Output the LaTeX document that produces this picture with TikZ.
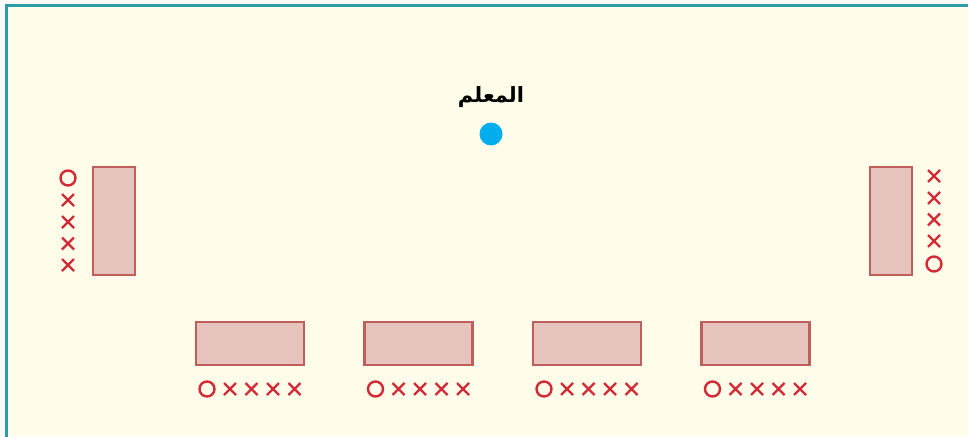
\documentclass[tikz,border=0pt]{standalone}
\usepackage{fontspec}
\newfontfamily\arabicfont[Script=Arabic]{DejaVu Sans}
\TeXXeTstate=1
\definecolor{frame}{HTML}{2A9DA6}
\definecolor{cream}{HTML}{FFFCE9}
\definecolor{deskfill}{HTML}{E6C3BC}
\definecolor{deskdraw}{HTML}{BF5F5B}
\definecolor{mark}{HTML}{D32A35}
\definecolor{dot}{HTML}{00AEEF}
\begin{document}
\begin{tikzpicture}[x=1pt,y=-1pt,
  desk/.style={draw=deskdraw,fill=deskfill,line width=2.2pt},
  ring/.style={draw=mark,line width=2.4pt},
  cross/.style={draw=mark,line width=2.4pt}]
\useasboundingbox (0,0) rectangle (968,436);
\fill[white!96!gray] (0,0) rectangle (968,436);
\fill[cream] (6,6) rectangle (968,436);
\draw[frame,line width=3pt] (6,440) -- (6,6) -- (970,6);
% teacher
\node[font=\arabicfont\bfseries\fontsize{21}{24}\selectfont] (t) at (491,97) {\beginR المعلم\endR};
\fill[dot] (491,134) circle (11.5);
% side desks
\draw[desk] (93,167) rectangle (135,275);
\draw[desk] (870,167) rectangle (912,275);
% bottom desks
\foreach \x in {196,364.5,533,701.5}{
  \draw[desk] (\x,322) rectangle ++(108,43);
  \draw[ring] (\x+11,389) circle (7.5);
  \foreach \d in {34,55.5,77,98.5}{
    \draw[cross] (\x+\d-6,383) -- (\x+\d+6,395) (\x+\d-6,395) -- (\x+\d+6,383);
  }
}
% left marks
\draw[ring] (68,178) circle (7.5);
\foreach \y in {200,222,243.5,265}{
  \draw[cross] (62,\y-6) -- (74,\y+6) (62,\y+6) -- (74,\y-6);
}
% right marks
\foreach \y in {176,198,219.5,241}{
  \draw[cross] (928,\y-6) -- (940,\y+6) (928,\y+6) -- (940,\y-6);
}
\draw[ring] (934,264) circle (7.5);
\end{tikzpicture}
\end{document}
